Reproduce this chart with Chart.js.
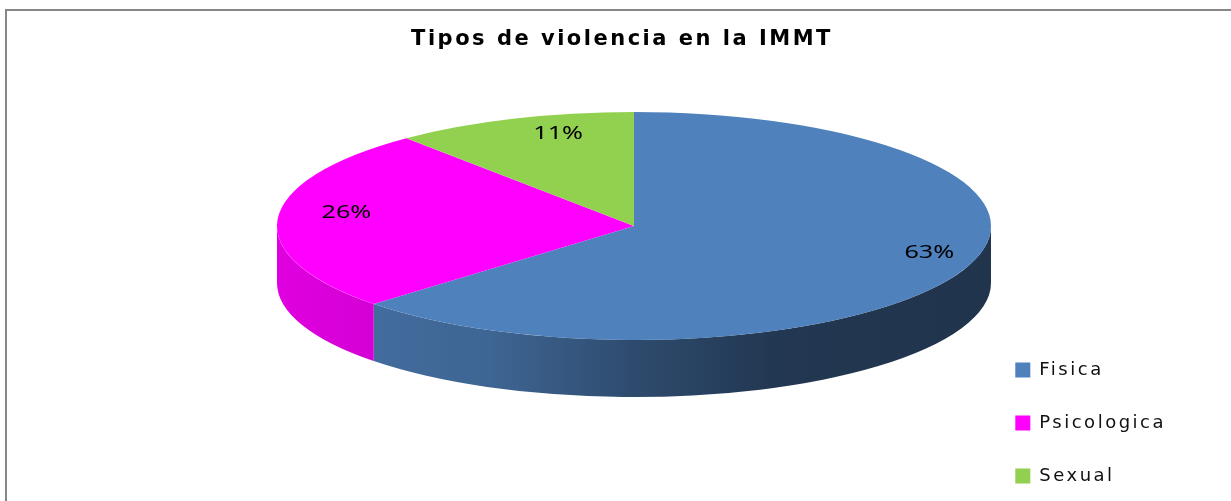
<!DOCTYPE html>
<html>
<head>
<meta charset="utf-8">
<script src="https://cdn.jsdelivr.net/npm/chart.js@4"></script>
<style>
  html, body { margin: 0; padding: 0; background: #fff; overflow: hidden; }
  #marco { position: absolute; left: 5px; top: 9px; width: 1400px; height: 700px;
           border-top: 2px solid #878787; border-left: 2px solid #878787; }
  #caja { position: absolute; left: 0; top: 0; width: 1231px; height: 501px; }
</style>
</head>
<body>
<div id="marco"></div>
<div id="caja"><canvas id="grafico"></canvas></div>
<script>
// datos del grafico
const categorias = ['Fisica', 'Psicologica', 'Sexual']
const porcentajes = [63, 26, 11]
const colores = ['#4f81bd', '#ff00ff', '#92d050']

// elipse del pastel 3D (cara superior) y grosor
const GEO = { cx: 634, cy: 226, rx: 357, ry: 114, depth: 57 }
const ESPACIADO = '2.5px' // el texto del original es mas ancho

// oscurecer un color hex
const shade = (hex, f) => {
    const n = parseInt(hex.slice(1), 16)
    const r = Math.round(((n >> 16) & 255) * f)
    const g = Math.round(((n >> 8) & 255) * f)
    const b = Math.round((n & 255) * f)
    return `rgb(${r},${g},${b})`
}

// plugin: pared lateral + aplastar el pastel en elipse + etiquetas
const pastel3d = {
    id: 'pastel3d',
    beforeLayout(chart) {
        chart.ctx.letterSpacing = ESPACIADO
    },
    beforeDraw(chart) {
        chart.ctx.letterSpacing = ESPACIADO
    },
    beforeDatasetsDraw(chart) {
        const ctx = chart.ctx
        ctx.letterSpacing = '0px'
        const meta = chart.getDatasetMeta(0)
        const { cx, cy, rx, ry, depth } = GEO
        meta.data.forEach((arc, i) => {
            const a = Math.max(arc.startAngle, 0)
            const b = Math.min(arc.endAngle, Math.PI)
            if (b <= a) return
            const g = ctx.createLinearGradient(cx - rx, 0, cx + rx, 0)
            g.addColorStop(0, shade(colores[i], 0.88))
            g.addColorStop(0.3, shade(colores[i], 0.78))
            g.addColorStop(0.5, shade(colores[i], 0.58))
            g.addColorStop(0.7, shade(colores[i], 0.43))
            g.addColorStop(1, shade(colores[i], 0.4))
            ctx.save()
            ctx.beginPath()
            ctx.ellipse(cx, cy, rx, ry, 0, a, b)
            ctx.ellipse(cx, cy + depth, rx, ry, 0, b, a, true)
            ctx.closePath()
            ctx.fillStyle = g
            ctx.fill()
            ctx.restore()
        })
        const arc0 = meta.data[0]
        const r = arc0.outerRadius
        ctx.save()
        ctx.translate(cx, cy)
        ctx.scale(rx / r, ry / r)
        ctx.translate(-arc0.x, -arc0.y)
    },
    afterDatasetsDraw(chart) {
        const ctx = chart.ctx
        ctx.restore()
        const meta = chart.getDatasetMeta(0)
        const { cx, cy, rx, ry } = GEO
        const total = porcentajes.reduce((s, v) => s + v, 0)
        ctx.save()
        ctx.font = '18px "Noto Sans"'
        ctx.letterSpacing = '0px'
        ctx.fillStyle = '#000'
        ctx.textAlign = 'center'
        ctx.textBaseline = 'middle'
        meta.data.forEach((arc, i) => {
            const mid = (arc.startAngle + arc.endAngle) / 2
            const s = Math.sin(mid)
            // perspectiva: el fondo se ve mas estrecho
            const x = cx + 0.82 * (1 + 0.25 * s) * rx * Math.cos(mid)
            const y = cy + 0.78 * ry * s - 8
            ctx.save()
            ctx.translate(x, y)
            ctx.scale(1.4, 1) // texto estirado como en el original
            ctx.fillText(Math.round(porcentajes[i] / total * 100) + '%', 0, 0)
            ctx.restore()
        })
        ctx.restore()
        ctx.letterSpacing = ESPACIADO
    }
}

let ctx = document.getElementById('grafico')
let chart = new Chart(ctx, {
    type: 'pie',
    data: {
        labels: categorias,
        datasets: [{
            data: porcentajes,
            backgroundColor: colores,
            borderWidth: 0
        }]
    },
    options: {
        responsive: true,
        maintainAspectRatio: false,
        animation: false,
        layout: { padding: { left: 68, right: 55, bottom: -19 } },
        plugins: {
            title: {
                display: true,
                text: 'Tipos de violencia en la IMMT',
                color: '#000',
                font: { family: 'DejaVu Sans', size: 21, weight: 'bold' },
                padding: { top: 27, bottom: 10 }
            },
            legend: {
                position: 'right',
                align: 'end',
                labels: {
                    boxWidth: 15,
                    boxHeight: 15,
                    padding: 35,
                    color: '#111',
                    font: { family: 'DejaVu Sans', size: 18 }
                }
            },
            tooltip: { enabled: false }
        }
    },
    plugins: [pastel3d]
});
</script>
</body>
</html>
